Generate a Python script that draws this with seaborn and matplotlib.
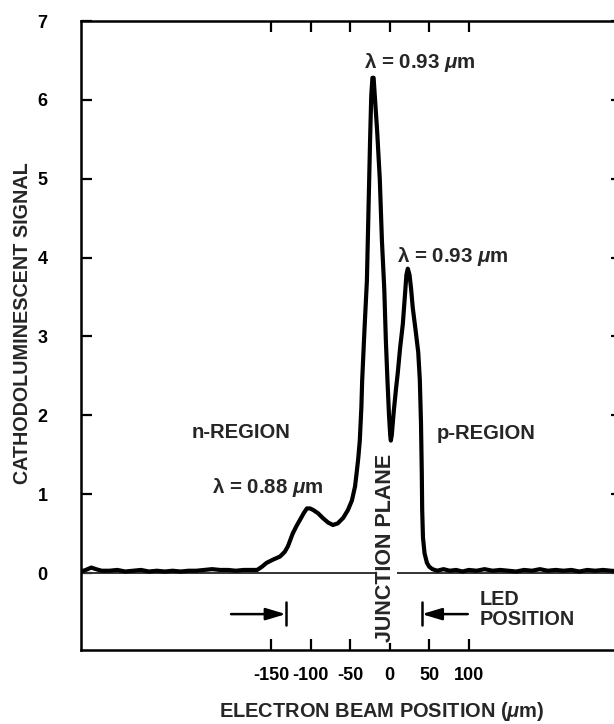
import matplotlib
matplotlib.use("Agg")
import matplotlib.pyplot as plt
import seaborn as sns
import pandas as pd

# ---- data ----
beam_position_um = [
    -391, -385, -378, -372, -365, -355, -345, -335, -325, -315, -305, -295,
    -285, -275, -265, -255, -245, -235, -225, -215, -205, -195, -185, -175,
    -168, -162, -156, -148, -139, -133, -129, -126, -123, -118, -114, -109,
    -105, -101, -97, -91, -85, -78, -72, -66, -59, -53, -48, -44, -42, -40,
    -38, -36, -35, -32, -29, -27, -25, -23.5, -22, -20.5, -19, -16, -12.7,
    -10, -7, -5, -3, -1, 0.5, 1.3, 2.5, 5, 8, 10, 13, 16.5, 19, 21, 22.8,
    25, 27, 29, 33, 36, 38, 39.5, 40.5, 41, 42, 44, 47, 50, 54, 60, 68, 76,
    84, 92, 100, 110, 120, 130, 140, 150, 160, 170, 180, 190, 200, 210, 220,
    230, 240, 250, 260, 270, 280, 294,
]
cl_signal = [
    0.02, 0.04, 0.07, 0.05, 0.03, 0.03, 0.04, 0.02, 0.03, 0.04, 0.02, 0.03,
    0.02, 0.03, 0.02, 0.03, 0.03, 0.04, 0.05, 0.04, 0.04, 0.03, 0.04, 0.04,
    0.04, 0.08, 0.13, 0.17, 0.21, 0.27, 0.34, 0.42, 0.50, 0.60, 0.67, 0.76,
    0.82, 0.82, 0.80, 0.76, 0.70, 0.64, 0.61, 0.63, 0.70, 0.80, 0.92, 1.10,
    1.27, 1.45, 1.68, 2.10, 2.44, 3.10, 3.71, 4.60, 5.48, 6.05, 6.28, 6.28,
    6.05, 5.60, 5.00, 4.22, 3.60, 2.95, 2.45, 2.00, 1.75, 1.68, 1.75, 2.05,
    2.35, 2.53, 2.85, 3.16, 3.50, 3.78, 3.86, 3.78, 3.60, 3.37, 3.05, 2.80,
    2.45, 1.90, 1.27, 0.80, 0.45, 0.25, 0.13, 0.08, 0.05, 0.03, 0.05, 0.03,
    0.04, 0.02, 0.04, 0.03, 0.05, 0.03, 0.04, 0.03, 0.02, 0.04, 0.03, 0.05,
    0.03, 0.04, 0.03, 0.04, 0.02, 0.04, 0.03, 0.04, 0.03, 0.02,
]
xtick_values = [-150, -100, -50, 0, 50, 100]
xtick_labels = ["-150", "-100", "-50", "0", "50", "100"]
ytick_values = [0, 1, 2, 3, 4, 5, 6, 7]

# annotations: (text, x, y)
peak_labels = [
    (r"λ = 0.93 $\mu$m", -33, 6.47),
    (r"λ = 0.93 $\mu$m", 9, 4.01),
    (r"λ = 0.88 $\mu$m", -225, 1.09),
]
region_labels = [("n-REGION", -251, 1.78), ("p-REGION", 59.5, 1.77)]
led_bounds = [-131.6, 40.5]      # LED edges (um)
led_arrow_tails = [-201, 98.7]   # arrow tails (um)
led_arrow_y = -0.52

df = pd.DataFrame({"x": beam_position_um, "y": cl_signal})

sns.set_theme(style="ticks")
plt.rcParams["font.family"] = ["Liberation Sans", "DejaVu Sans"]
plt.rcParams["font.weight"] = "bold"
plt.rcParams["mathtext.fontset"] = "custom"
plt.rcParams["mathtext.rm"] = "Liberation Sans:bold"
plt.rcParams["mathtext.it"] = "Liberation Sans:italic:bold"
plt.rcParams["mathtext.bf"] = "Liberation Sans:bold"

fig = plt.figure(figsize=(6.14, 7.24), dpi=100)
ax = fig.add_axes([81 / 614, 74 / 724, 541 / 614, 629 / 724])

ax.axhline(0, color="#333333", lw=1.4, zorder=1)
sns.lineplot(data=df, x="x", y="y", ax=ax, color="black", lw=3.0,
             zorder=3, estimator=None, sort=False)

ax.set_xlim(-391, 294)
ax.set_ylim(-0.975, 7)
ax.set_xticks(xtick_values)
ax.set_xticklabels(xtick_labels)
ax.set_yticks(ytick_values)
ax.tick_params(axis="both", direction="in", length=8, width=1.6,
               labelsize=13, top=True, right=True, colors="black")
ax.tick_params(axis="x", pad=12)
ax.tick_params(axis="y", pad=24)
for lab in ax.get_xticklabels() + ax.get_yticklabels():
    lab.set_fontweight("bold")
for sp in ax.spines.values():
    sp.set_linewidth(1.8)
    sp.set_color("black")

ax.set_xlabel("ELECTRON BEAM POSITION ($\\mu$m)", fontsize=14.4,
              fontweight="bold", va="center", ha="center")
ax.xaxis.set_label_coords(0.556, -0.097)
ax.set_ylabel("CATHODOLUMINESCENT SIGNAL", fontsize=14.2, fontweight="bold",
              va="center", ha="center")
ax.yaxis.set_label_coords(-0.109, 0.52)

for txt, x, y in peak_labels:
    ax.text(x, y, txt, fontsize=14.8, fontweight="bold", ha="left",
            va="center", zorder=5)
for txt, x, y in region_labels:
    ax.text(x, y, txt, fontsize=14.6, fontweight="bold", ha="left",
            va="center", zorder=5)

ax.text(-5, 0.32, "JUNCTION PLANE", rotation=90, fontsize=15.5,
        fontweight="bold", ha="center", va="center", zorder=4,
        bbox=dict(facecolor="white", edgecolor="none", pad=0.5))

ax.text(114, -0.46, "LED\nPOSITION", fontsize=14.3, fontweight="bold",
        ha="left", va="center", linespacing=1.1)

for bound, tail in zip(led_bounds, led_arrow_tails):
    ax.annotate("", xy=(bound, led_arrow_y), xytext=(tail, led_arrow_y),
                arrowprops=dict(arrowstyle="-|>,head_length=1.0,head_width=0.3",
                                color="black", lw=1.8, shrinkA=0, shrinkB=0))
    ax.plot([bound, bound], [led_arrow_y + 0.15, led_arrow_y - 0.14],
            color="black", lw=1.8)

fig.savefig("out.png", dpi=100)
